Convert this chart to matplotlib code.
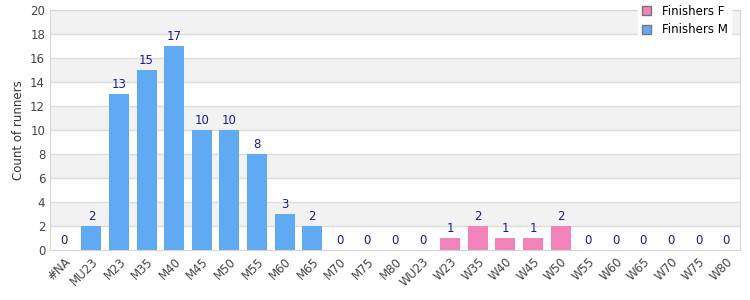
import matplotlib
matplotlib.use("Agg")
import matplotlib.pyplot as plt
from matplotlib.patches import Patch

categories = ["#NA", "MU23", "M23", "M35", "M40", "M45", "M50", "M55", "M60", "M65",
              "M70", "M75", "M80", "WU23", "W23", "W35", "W40", "W45", "W50", "W55",
              "W60", "W65", "W70", "W75", "W80"]
values = [0, 2, 13, 15, 17, 10, 10, 8, 3, 2,
          0, 0, 0, 0, 1, 2, 1, 1, 2, 0,
          0, 0, 0, 0, 0]
series = ["", "M", "M", "M", "M", "M", "M", "M", "M", "M",
          "M", "M", "M", "F", "F", "F", "F", "F", "F", "F",
          "F", "F", "F", "F", "F"]

col_m = "#60a9f3"
col_f = "#f283b8"

fig = plt.figure(figsize=(7.5, 3), dpi=100)
ax = fig.add_axes([50/750, 1-250/300, 690/750, 240/300])

n = len(categories)
ax.set_xlim(-0.5, n - 0.5)
ax.set_ylim(0, 20)

for y0 in range(2, 20, 4):
    ax.axhspan(y0, y0 + 2, color="#f2f2f2", zorder=0, lw=0)
for y in range(2, 21, 2):
    ax.axhline(y, color="#dcdcdc", lw=1, zorder=1)

colors = [col_f if s == "F" else col_m for s in series]
x = list(range(n))
ax.bar(x, values, width=0.72, color=colors, zorder=2)
for xi, v in zip(x, values):
    ax.annotate(str(v), (xi, v), xytext=(0, 2.5), textcoords="offset points",
                ha="center", va="bottom", color="#1a1a8c", fontsize=8.5)

ax.set_xticks(x)
ax.set_xticklabels(categories, rotation=45, ha="right", rotation_mode="anchor",
                   fontsize=8.5, color="#444444")
ax.set_yticks(range(0, 21, 2))
ax.tick_params(axis="y", labelsize=8.5, labelcolor="#444444", length=0)
ax.tick_params(axis="x", length=0, pad=4)
ax.set_ylabel("Count of runners", fontsize=8.5, color="#333333")

for s in ax.spines.values():
    s.set_color("#d5d5d5")

handles = [Patch(facecolor=col_f, edgecolor="#777777", label="Finishers F"),
           Patch(facecolor=col_m, edgecolor="#777777", label="Finishers M")]
leg = ax.legend(handles=handles, loc="upper right", bbox_to_anchor=(0.996, 1.06),
                fontsize=8.5, frameon=True, fancybox=False, handlelength=0.8,
                handleheight=0.8, borderpad=0.3, labelspacing=0.45, handletextpad=0.9)
leg.get_frame().set_edgecolor("white")
leg.get_frame().set_facecolor("white")
leg.get_frame().set_alpha(1)
leg.set_zorder(5)

fig.savefig("out.png", dpi=100)
